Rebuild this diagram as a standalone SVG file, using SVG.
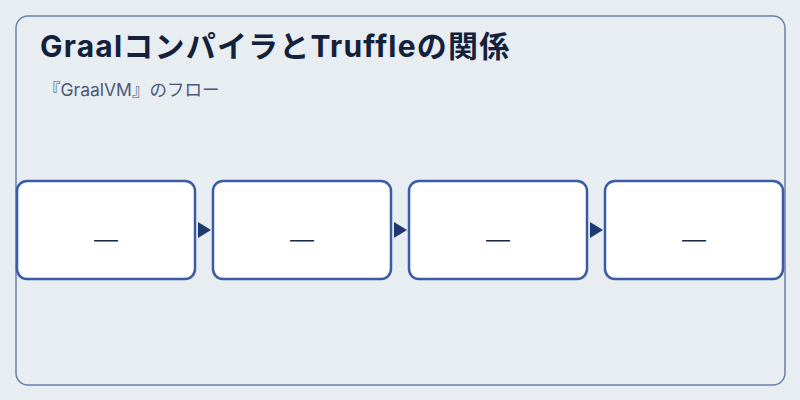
<svg xmlns="http://www.w3.org/2000/svg" width="800" height="400" viewBox="0 0 800 400">
<defs>
<style>
.node rect{fill:#ffffff;stroke:#3a5ba5;stroke-width:2.5}
.lbl{font-family:Inter,"Noto Sans CJK JP",sans-serif;font-size:24px;font-weight:300;fill:#1b2a44;text-anchor:middle}
.title{font-family:Inter,"Noto Sans CJK JP",sans-serif;font-size:30px;font-weight:bold;fill:#14213a;letter-spacing:1.2px}
.sub{font-family:Inter,"Noto Sans CJK JP",sans-serif;font-size:17.5px;fill:#4a5873}
.arrow{fill:#1e3a6e}
</style>
</defs>
<rect x="0" y="0" width="800" height="400" fill="#e8edf2"/>
<rect x="16" y="16" width="769" height="369" rx="12" fill="#e8edf2" stroke="#6a80aa" stroke-width="1.5"/>
<text class="title" x="40" y="57">GraalコンパイラとTruffleの関係</text>
<text class="sub" x="43" y="96">『GraalVM』のフロー</text>
<g id="connectors">
<polygon class="arrow" points="198,222 211,230 198,238"/>
<polygon class="arrow" points="394,222 407,230 394,238"/>
<polygon class="arrow" points="590,222 603,230 590,238"/>
</g>
<g id="node1" class="node"><rect x="17" y="181" width="178" height="98" rx="10"/><text class="lbl" x="106" y="248">—</text></g>
<g id="node2" class="node"><rect x="213" y="181" width="178" height="98" rx="10"/><text class="lbl" x="302" y="248">—</text></g>
<g id="node3" class="node"><rect x="409" y="181" width="178" height="98" rx="10"/><text class="lbl" x="498" y="248">—</text></g>
<g id="node4" class="node"><rect x="605" y="181" width="178" height="98" rx="10"/><text class="lbl" x="694" y="248">—</text></g>
</svg>
